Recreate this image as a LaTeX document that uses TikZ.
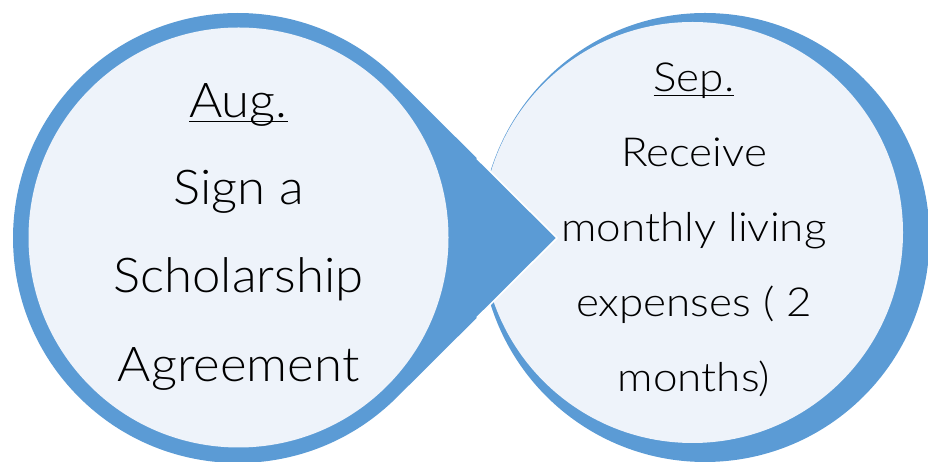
\documentclass[tikz,border=0pt]{standalone}
\usepackage{fontspec}
\setmainfont{Lato Light}
\usetikzlibrary{calc}
\definecolor{ringblue}{HTML}{5B9BD5}
\definecolor{palefill}{HTML}{EEF3FA}
\newlength\ulw
\newcommand\myul[1]{\settowidth\ulw{#1}\rlap{\rule[-4.5pt]{\ulw}{1.6pt}}#1}
\tikzset{
  bigtxt/.style={anchor=base, inner sep=0pt, font=\fontsize{48}{50}\selectfont\addfontfeatures{FakeStretch=1.06}},
  midtxt/.style={anchor=base, inner sep=0pt, font=\fontsize{40}{42}\selectfont\addfontfeatures{FakeStretch=1.1}},
}
\begin{document}
\begin{tikzpicture}[x=1pt,y=1pt]
\useasboundingbox (0,0) rectangle (928,462);
% right circle: blue crescent behind, pale disc on top
\coordinate (rb) at (705,224.5);
\coordinate (rc) at (692.5,229.5);
\fill[ringblue] (rb) circle[radius=224.5];
\fill[palefill] (rc) circle[radius=210.5];
% left teardrop with pointer
\coordinate (lc) at (238,224);
\coordinate (tip) at (557,224);
\coordinate (tu) at ($(lc)+(45.14:225)$);
\coordinate (td) at ($(lc)+(-45.14:225)$);
\coordinate (mu) at ($(tu)!0.5!(tip)$);
\coordinate (md) at ($(td)!0.5!(tip)$);
\fill[ringblue] (tip) -- (tu) arc[start angle=45.14, end angle=314.86, radius=225] -- cycle;
\draw[white, line width=1.6pt, line join=miter] (mu) -- (tip) -- (md);
\fill[palefill] (238.5,224.5) circle[radius=210];
% left text
\node[bigtxt] (l1) at (238.5,344) {\myul{Aug.}};
\node[bigtxt] (l2) at (238.5,257) {Sign a};
\node[bigtxt] (l3) at (238.5,169) {Scholarship};
\node[bigtxt] (l4) at (238.5,80) {Agreement};
% right text
\node[midtxt] (r1) at (694,370) {\myul{Sep.}};
\node[midtxt] (r2) at (694,295) {Receive};
\node[midtxt] (r3) at (694,220) {monthly living};
\node[midtxt] (r4) at (694,145) {expenses ( 2};
\node[midtxt] (r5) at (694,70) {months)};
\end{tikzpicture}
\end{document}
